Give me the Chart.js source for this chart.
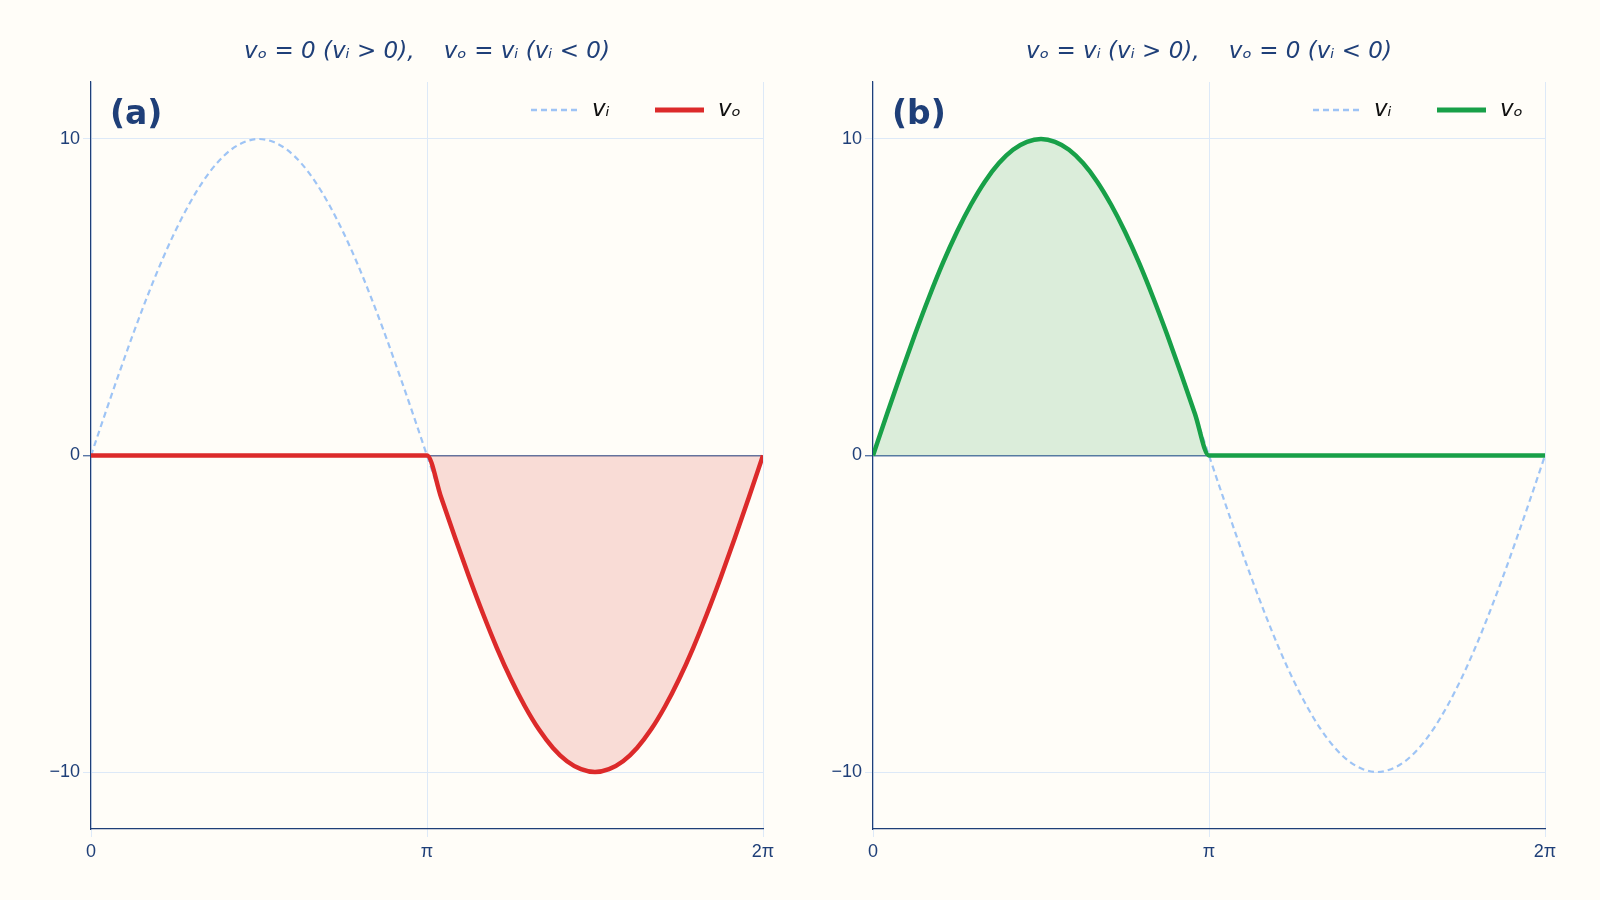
<!DOCTYPE html>
<html><head><meta charset="utf-8">
<script src="https://cdn.jsdelivr.net/npm/chart.js@4"></script>
<style>
body{margin:0;background:#fffdf8;width:1600px;height:900px;overflow:hidden;font-family:"DejaVu Sans"}
canvas{position:absolute;top:0}
</style></head><body>
<div style="position:absolute;left:0;top:0;width:816px;height:900px"><canvas id="ca"></canvas></div>
<div style="position:absolute;left:782px;top:0;width:816px;height:900px"><canvas id="cb"></canvas></div>
<script>
const PI = Math.PI;
// x positions: 0 .. 2π in 48 steps (step π/24)
const xSteps = [0,1,2,3,4,5,6,7,8,9,10,11,12,13,14,15,16,17,18,19,20,21,22,23,24,25,26,27,28,29,30,31,32,33,34,35,36,37,38,39,40,41,42,43,44,45,46,47,48];
// input signal v_i
const vi = [0,1.31,2.59,3.83,5.00,6.09,7.07,7.93,8.66,9.24,9.66,9.91,10,9.91,9.66,9.24,8.66,7.93,7.07,6.09,5.00,3.83,2.59,1.31,0,
 -1.31,-2.59,-3.83,-5.00,-6.09,-7.07,-7.93,-8.66,-9.24,-9.66,-9.91,-10,-9.91,-9.66,-9.24,-8.66,-7.93,-7.07,-6.09,-5.00,-3.83,-2.59,-1.31,0];
// output (a): 0 when vi>0, vi when vi<0
const voA = [0,0,0,0,0,0,0,0,0,0,0,0,0,0,0,0,0,0,0,0,0,0,0,0,0,
 -1.31,-2.59,-3.83,-5.00,-6.09,-7.07,-7.93,-8.66,-9.24,-9.66,-9.91,-10,-9.91,-9.66,-9.24,-8.66,-7.93,-7.07,-6.09,-5.00,-3.83,-2.59,-1.31,0];
// output (b): vi when vi>0, 0 when vi<0
const voB = [0,1.31,2.59,3.83,5.00,6.09,7.07,7.93,8.66,9.24,9.66,9.91,10,9.91,9.66,9.24,8.66,7.93,7.07,6.09,5.00,3.83,2.59,1.31,0,
 0,0,0,0,0,0,0,0,0,0,0,0,0,0,0,0,0,0,0,0,0,0,0,0];
const xTicks = [0, PI, 2*PI];
const xTickLabels = ['0','π','2π'];
const yTicks = [-10, 0, 10];

const navy = '#1f3f78';
function pts(arr){ return arr.map((v,i)=>({x:xSteps[i]*PI/24, y:v})); }

function make(id, vo, col, fillCol, tag, title){
  const overlay = {
    id:'ov',
    afterDraw(c){
      const ctx=c.ctx, a=c.chartArea;
      ctx.save();
      ctx.fillStyle=navy; ctx.textAlign='center'; ctx.textBaseline='middle';
      ctx.font='italic 23px "DejaVu Sans"';
      ctx.fillText(title,(a.left+a.right)/2,52);
      ctx.textAlign='left';
      ctx.font='bold 33px "DejaVu Sans"';
      ctx.fillText(tag,a.left+19,115);
      const y=110, r=a.right;
      ctx.lineWidth=2.5; ctx.strokeStyle='#9ec4f5'; ctx.setLineDash([6,4]);
      ctx.beginPath(); ctx.moveTo(r-232,y); ctx.lineTo(r-186,y); ctx.stroke();
      ctx.setLineDash([]); ctx.lineWidth=5; ctx.strokeStyle=col;
      ctx.beginPath(); ctx.moveTo(r-108,y); ctx.lineTo(r-59,y); ctx.stroke();
      ctx.fillStyle='#111'; ctx.font='italic 23px "DejaVu Sans"';
      ctx.fillText('vᵢ',r-171,y); ctx.fillText('vₒ',r-45,y);
      ctx.restore();
    }
  };
  new Chart(document.getElementById(id),{
    type:'line',
    data:{datasets:[
      {data:pts(vi),order:2,borderColor:'#9ec4f5',borderDash:[6,4],borderWidth:2.2,pointRadius:0,fill:false,cubicInterpolationMode:'monotone'},
      {data:pts(vo),order:1,borderColor:col,borderWidth:4.5,pointRadius:0,fill:{target:'origin'},backgroundColor:fillCol,cubicInterpolationMode:'monotone'}
    ]},
    options:{
      responsive:false, animation:false, devicePixelRatio:1,
      layout:{padding:{left:0,right:53,top:82,bottom:0}},
      plugins:{legend:{display:false},tooltip:{enabled:false}},
      scales:{
        x:{type:'linear',min:0,max:2*PI,
          afterBuildTicks(s){s.ticks=xTicks.map(v=>({value:v}));},
          afterFit(s){s.height=71;},
          ticks:{color:navy,font:{size:18},padding:4,callback:(v,i)=>xTickLabels[i]},
          grid:{color:'#dde9f8',lineWidth:1},
          border:{color:navy,width:1.2}},
        y:{min:-11.8,max:11.8,
          afterBuildTicks(s){s.ticks=yTicks.map(v=>({value:v}));},
          afterFit(s){s.width=91;},
          ticks:{color:navy,font:{size:18},callback:v=>v<0?'−'+Math.abs(v):String(v)},
          grid:{color:c=>c.tick&&c.tick.value===0?'#5a78a8':'#dde9f8',lineWidth:c=>c.tick&&c.tick.value===0?1.4:1},
          border:{color:navy,width:1.2}}
      }
    },
    plugins:[overlay]
  });
}
const cA=document.getElementById('ca'); cA.width=816; cA.height=900;
const cB=document.getElementById('cb'); cB.width=816; cB.height=900;
make('ca', voA, '#dc2a2a', 'rgba(220,60,50,0.17)', '(a)', 'vₒ = 0 (vᵢ > 0),    vₒ = vᵢ (vᵢ < 0)');
make('cb', voB, '#18a048', 'rgba(40,160,70,0.17)', '(b)', 'vₒ = vᵢ (vᵢ > 0),    vₒ = 0 (vᵢ < 0)');
</script></body></html>
